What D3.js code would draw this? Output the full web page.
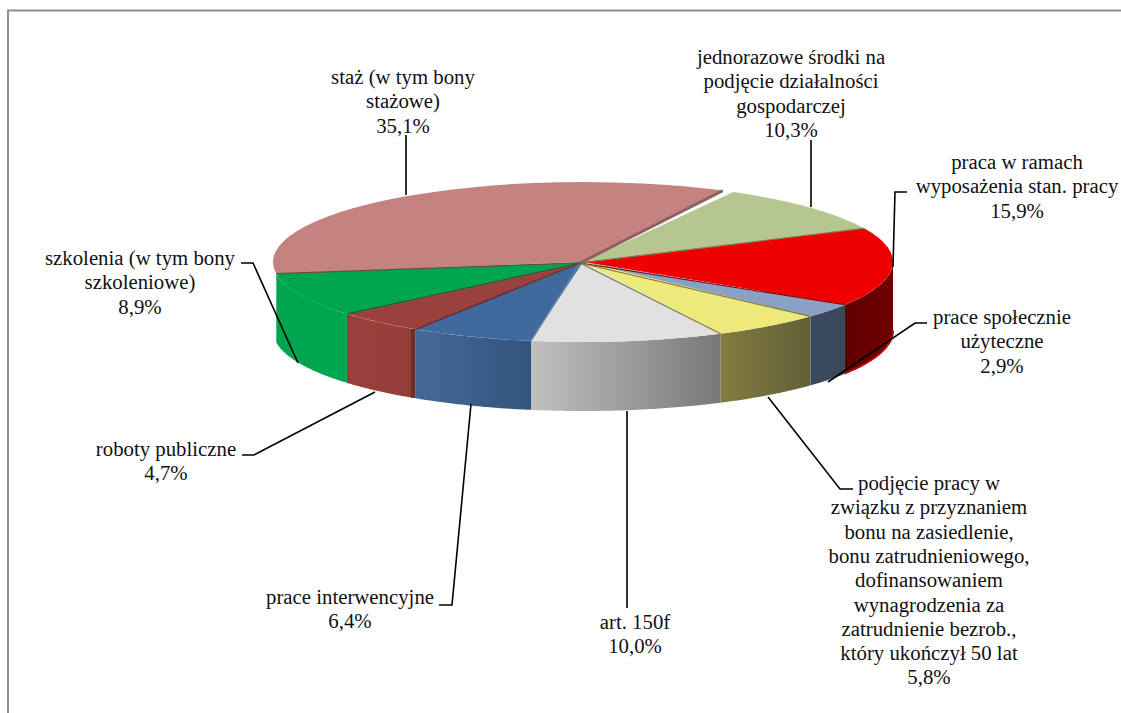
<!DOCTYPE html>
<html><head><meta charset="utf-8">
<script src="https://cdn.jsdelivr.net/npm/d3@7/dist/d3.min.js"></script>
<style>html,body{margin:0;padding:0;background:#fff}svg{display:block}text{font-family:"Liberation Serif","Times New Roman",serif;font-size:20.8px;fill:#111;text-anchor:middle}</style>
</head><body><svg id="c" width="1121" height="713"></svg>
<script>
// Data
const categories = [
  ["jednorazowe środki na","podjęcie działalności","gospodarczej"],
  ["praca w ramach","wyposażenia stan. pracy"],
  ["prace społecznie","użyteczne"],
  ["podjęcie pracy w","związku z przyznaniem","bonu na zasiedlenie,","bonu zatrudnieniowego,","dofinansowaniem","wynagrodzenia za","zatrudnienie bezrob.,","który ukończył 50 lat"],
  ["art. 150f"],
  ["prace interwencyjne"],
  ["roboty publiczne"],
  ["szkolenia (w tym bony","szkoleniowe)"],
  ["staż (w tym bony","stażowe)"]
];
const values = [10.3,15.9,2.9,5.8,10.0,6.4,4.7,8.9,35.1];
const valueLabels = ["10,3%","15,9%","2,9%","5,8%","10,0%","6,4%","4,7%","8,9%","35,1%"];
// Styles
const topColors = ["#b5c690","#ee0000","#8aa0c4","#ede97a","#e1e1e1","#406a9d","#9a403d","#00a64f","#c58380"];
const edgeColors = ["#8e6163","#75805c","#8a0000","#7d7a3c","#7d7a3c","#6a86a8","#5e2a2a","#0a6b38","#6b4a42"];
const wallStops = [
  null,
  [[0,"#5e0000"],[1,"#700000"]],
  [[0,"#384a60"],[1,"#3d4658"]],
  [[0,"#827c40"],[1,"#635f38"]],
  [[0,"#c0c0c0"],[1,"#787878"]],
  [[0,"#436a98"],[1,"#33547c"]],
  [[0,"#8f3d38"],[.06,"#9a403a"],[.93,"#943e38"],[.94,"#6c2e2b"],[1,"#6c2e2b"]],
  [[0,"#00a64f"],[1,"#00a64f"]],
  null
];
// Layout
const W=1121,H=713,cx=583,cy=262,rx=310,ry=80,depth=69;
const startDeg=28, stazGapDeg=1.2, olivePadDeg=1;
const labelX=[791,1017,1002,929,635,350,166,140,403];
const labelY=[58,163,318,484,623,598,450,259,78];
const lineStep=24.3;
const leaders=[
  [[811,140],[811,207]],
  [[907,192],[895,192],[893,267]],
  [[927,323],[915,323],[828,382]],
  [[853,489],[840,489],[768,397]],
  [[627,608],[627,411]],
  [[439,605],[452,605],[471,404]],
  [[242,455],[254,455],[375,392]],
  [[241,263],[253,263],[298,363]],
  [[406,135],[406,195]]
];

const svg=d3.select("#c");
const defs=svg.append("defs");
const x=d3.scaleLinear().domain([-1,1]).range([cx-rx,cx+rx]);
const y=d3.scaleLinear().domain([-1,1]).range([cy-ry,cy+ry]);
const rad=d=>d*Math.PI/180;
const pie=d3.pie().sort(null).startAngle(rad(startDeg)).endAngle(rad(startDeg+360));
const arcs=pie(values);
const rim=(a,dz=0)=>[x(Math.sin(a)),y(-Math.cos(a))+dz];
const line=d3.line();

// frame
svg.append("path").attr("d",line([[8,H],[8,10.5],[W,10.5]])).attr("fill","none").attr("stroke","#8f8f8f").attr("stroke-width",2);

// leader to the back slice sits behind the pie
svg.append("path").attr("d",line(leaders[8])).attr("fill","none").attr("stroke","#000").attr("stroke-width",1.6);

// walls
arcs.forEach((a,i)=>{
  if(!wallStops[i]) return;
  const a0=Math.max(a.startAngle,Math.PI/2), a1=Math.min(a.endAngle,Math.PI*1.5);
  if(a1<=a0) return;
  const g=defs.append("linearGradient").attr("id","w"+i).attr("x1",0).attr("x2",1).attr("y1",0).attr("y2",0);
  wallStops[i].forEach(s=>g.append("stop").attr("offset",s[0]).attr("stop-color",s[1]));
  const ts=d3.range(0,61).map(k=>a0+(a1-a0)*k/60);
  const pts=ts.map(t=>rim(t)).concat(ts.slice().reverse().map(t=>rim(t,depth)));
  svg.append("path").attr("d",line(pts)+"Z").attr("fill",`url(#w${i})`);
  if(i===1){
    svg.append("path").attr("d",line(ts.map(t=>rim(t,depth-.5)))).attr("fill","none").attr("stroke","#b80000").attr("stroke-width",2);
  }
});

// top faces
const arc=d3.arc().innerRadius(0).outerRadius(rx);
const faces=svg.append("g").attr("transform",`translate(${cx},${cy}) scale(1,${ry/rx})`);
arcs.forEach((a,i)=>{
  const end = i===arcs.length-1 ? a.endAngle-rad(stazGapDeg) : a.endAngle;
  const start = i===0 ? a.startAngle+rad(olivePadDeg) : a.startAngle;
  faces.append("path").attr("d",arc({startAngle:start,endAngle:end})).attr("fill",topColors[i]);
});
// radial edges: each drawn at the start of its slice; the first one is the staż wall edge
arcs.forEach((a,i)=>{
  const e=i===0?a.startAngle-rad(stazGapDeg):a.startAngle;
  svg.append("path").attr("d",line([[cx-3,cy+1],rim(e)])).attr("fill","none")
    .attr("stroke",edgeColors[i]).attr("stroke-width",i===0?3:1.2);
});

// leaders
leaders.slice(0,8).forEach(l=>svg.append("path").attr("d",line(l)).attr("fill","none").attr("stroke","#000").attr("stroke-width",1.6));

// labels
categories.forEach((c,i)=>{
  const rows=c.concat([valueLabels[i]]);
  const t=svg.append("text").attr("transform",`translate(${labelX[i]},${labelY[i]+6})`);
  rows.forEach((r,k)=>t.append("tspan").attr("x",0).attr("y",k*lineStep).text(r));
});
</script></body></html>
